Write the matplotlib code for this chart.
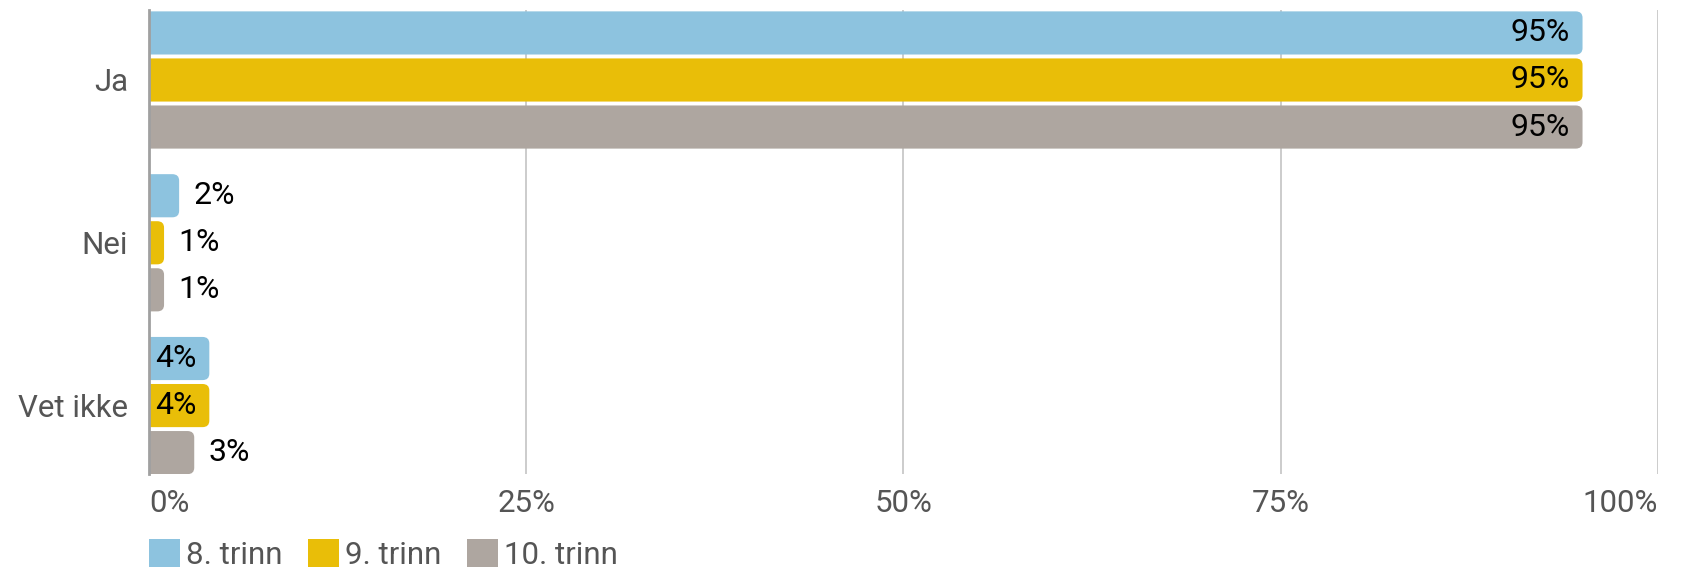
import matplotlib.pyplot as plt
from matplotlib.patches import FancyBboxPatch, Patch
import numpy as np

plt.rcParams['font.family'] = ['Roboto', 'DejaVu Sans']

# Data
categories = ['Ja', 'Nei', 'Vet ikke']
series = ['8. trinn', '9. trinn', '10. trinn']
values = {
    '8. trinn': [95, 2, 4],
    '9. trinn': [95, 1, 4],
    '10. trinn': [95, 1, 3],
}
colors = ['#8DC3DF', '#E9BE08', '#AEA6A0']
xticks = [0, 25, 50, 75, 100]

fig = plt.figure(figsize=(16.87, 5.71), dpi=100)
ax = fig.add_axes([0.0883, 0.170, 0.8945, 0.8125])

bar_h = 0.265
step = 0.289
y = np.arange(len(categories))

# x px per unit ~15.09, y px per unit ~163
r = 0.45
aspect = (6.5 / 163) / r

for i, s in enumerate(series):
    offs = (i - 1) * step
    for j, v in enumerate(values[s]):
        yc = y[j] + offs
        p = FancyBboxPatch((-2, yc - bar_h / 2), v + 2, bar_h,
                           boxstyle='round,pad=0,rounding_size=%s' % r,
                           mutation_aspect=aspect,
                           facecolor=colors[i], edgecolor='none', zorder=3)
        ax.add_patch(p)
        label = '%d%%' % v
        if v >= 4:
            ax.text(v - 0.85, yc, label, ha='right', va='center',
                    fontsize=23, color='black', zorder=4)
        else:
            ax.text(v + 0.95, yc, label, ha='left', va='center',
                    fontsize=23, color='black', zorder=4)

ax.set_xlim(0, 100)
ax.set_ylim(2.42, -0.43)
ax.set_yticks(y)
ax.set_yticklabels(categories, fontsize=22.5, color='#555555')
ax.set_xticks(xticks)
ax.set_xticklabels(['%d%%' % t for t in xticks], fontsize=22.5, color='#555555')
labels = ax.get_xticklabels()
labels[0].set_ha('left')
labels[-1].set_ha('right')
ax.tick_params(axis='y', length=0, pad=15)
ax.tick_params(axis='x', length=0, pad=11)

ax.grid(axis='x', color='#C8C8C8', linewidth=1.3, zorder=0)
ax.grid(axis='y', visible=False)
for sp in ['top', 'right', 'bottom']:
    ax.spines[sp].set_visible(False)
ax.spines['left'].set_color('#A0A0A0')
ax.spines['left'].set_linewidth(2)
ax.spines['left'].set_zorder(5)

handles = [Patch(facecolor=c, edgecolor='none', label=s) for s, c in zip(series, colors)]
fig.legend(handles=handles, loc='center left', bbox_to_anchor=(0.0883, 0.029),
           ncol=3, frameon=False, fontsize=22.5, labelcolor='#555555',
           handlelength=1.0, handleheight=1.0, handletextpad=0.2,
           columnspacing=0.8, borderpad=0, borderaxespad=0)

fig.savefig('out.png', dpi=100, facecolor='white')
